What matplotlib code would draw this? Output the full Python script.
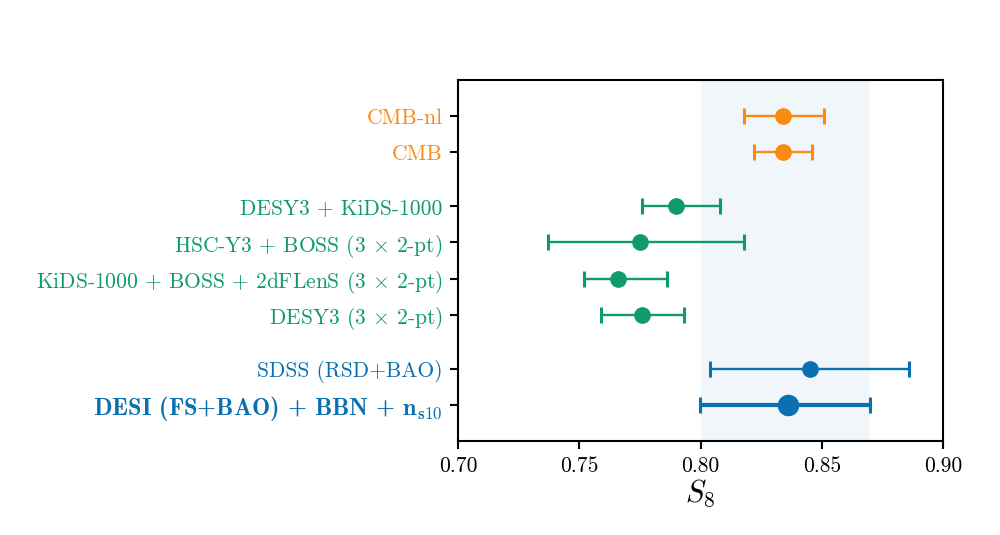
import numpy as np
import matplotlib
matplotlib.use("Agg")
import matplotlib.pyplot as plt

plt.rcParams['font.family'] = 'serif'
plt.rcParams['font.serif'] = ['cmr10']
plt.rcParams['mathtext.fontset'] = 'cm'
plt.rcParams['axes.formatter.use_mathtext'] = True

# Constraints on S8 (central value, lower error, upper error)
labels = [r'DESI (FS+BAO) + BBN + n$_{\mathbf{s10}}$',
          'SDSS (RSD+BAO)',
          r'DESY3 (3 $\times$ 2-pt)',
          r'KiDS-1000 + BOSS + 2dFLenS (3 $\times$ 2-pt)',
          r'HSC-Y3 + BOSS (3 $\times$ 2-pt)',
          'DESY3 + KiDS-1000',
          'CMB',
          'CMB-nl']
s8 = [0.836, 0.845, 0.776, 0.766, 0.775, 0.790, 0.834, 0.834]
err_lo = [0.036, 0.041, 0.017, 0.014, 0.038, 0.014, 0.012, 0.016]
err_hi = [0.034, 0.041, 0.017, 0.020, 0.043, 0.018, 0.012, 0.017]
groups = ['desi', 'desi', 'lens', 'lens', 'lens', 'lens', 'cmb', 'cmb']
ypos = [0, 1, 2.5, 3.5, 4.5, 5.5, 7, 8]
band = (0.800, 0.870)

colors = {'desi': '#0a70b0', 'lens': '#0f9a6e', 'cmb': '#fb8a12'}

fig = plt.figure(figsize=(10, 5.35), dpi=100)
ax = fig.add_axes([0.458, 0.1757, 0.485, 0.6748])

ax.axvspan(band[0], band[1], color='#0072B2', alpha=0.06, lw=0, zorder=0)

for i in range(len(labels)):
    c = colors[groups[i]]
    big = i == 0
    ax.errorbar(s8[i], ypos[i], xerr=[[err_lo[i]], [err_hi[i]]], fmt='o',
                color=c, ms=14.5 if big else 11, lw=3 if big else 1.7,
                capsize=5.5, capthick=2.2, zorder=3)

ax.set_xlim(0.70, 0.90)
ax.set_ylim(-1, 9)
ax.set_xticks(np.arange(0.70, 0.901, 0.05))
ax.xaxis.set_major_formatter(plt.FuncFormatter('{:.2f}'.format))
ax.set_yticks(ypos)
ax.set_yticklabels(labels, fontsize=15.5)
for lab, g in zip(ax.get_yticklabels(), groups):
    lab.set_color(colors[g])
# the DESI result is highlighted in bold
ax.get_yticklabels()[0].set_fontfamily('cmb10')
ax.get_yticklabels()[0].set_fontsize(17.5)

ax.tick_params(axis='x', labelsize=15.5, length=6, width=1.5, direction='out', pad=5)
ax.tick_params(axis='y', length=6, width=1.5, direction='out', pad=5)
for sp in ax.spines.values():
    sp.set_linewidth(1.5)

ax.set_xlabel(r'$S_8$', fontsize=22, labelpad=1)

fig.savefig('out.png', dpi=100)
